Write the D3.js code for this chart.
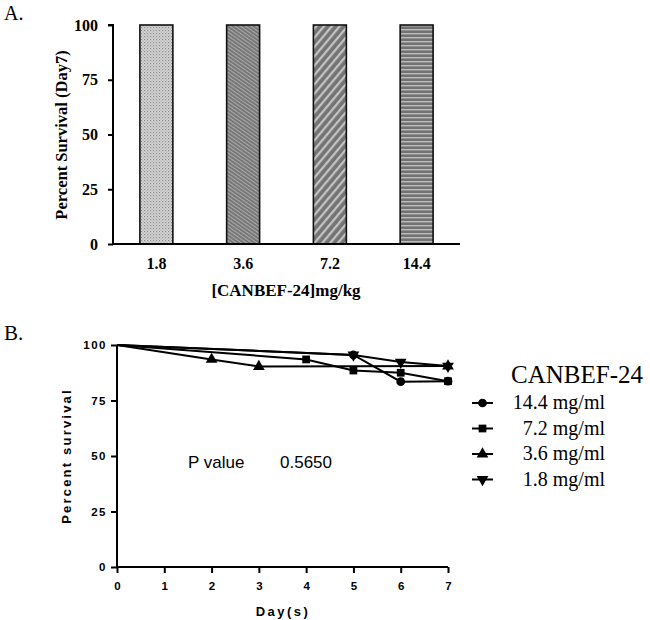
<!DOCTYPE html>
<html>
<head>
<meta charset="utf-8">
<script src="https://cdn.jsdelivr.net/npm/d3@7"></script>
<style>
  body { margin: 0; background: #fff; }
  svg { display: block; }
</style>
</head>
<body>
<svg id="chart" width="650" height="620"></svg>
<script>
// Panel A: survival at day 7 per dose
const doses = ["1.8", "3.6", "7.2", "14.4"];
const day7Survival = [100, 100, 100, 100];
const barPatterns = ["pDots", "pFine", "pDiag", "pHoriz"];
const yTicksA = [0, 25, 50, 75, 100];

// Panel B: survival curves
const days = [0, 1, 2, 3, 4, 5, 6, 7];
const yTicksB = [0, 25, 50, 75, 100];
const seriesNames = ["14.4 mg/ml", "7.2 mg/ml", "3.6 mg/ml", "1.8 mg/ml"];
const seriesSymbols = ["circle", "square", "triangle", "invtriangle"];
const curve144 = [[0, 100], [5, 95.5], [6, 83.5], [7, 83.7]];
const curve72 = [[0, 100], [4, 93.5], [5, 88.5], [6, 87.5], [7, 83.7]];
const curve36 = [[0, 100], [2, 93.5], [3, 90.3], [7, 90.5]];
const curve18 = [[0, 100], [5, 95.5], [6, 92.3], [7, 90.5]];
const curves = [curve144, curve72, curve36, curve18];
const pValue = "0.5650";

const svg = d3.select("#chart");
const serif = "'Liberation Serif', 'Times New Roman', serif";
const sans = "'Liberation Sans', Arial, sans-serif";

// ---- fill patterns for the bars
const defs = svg.append("defs");

const dots = defs.append("pattern").attr("id", "pDots")
    .attr("patternUnits", "userSpaceOnUse").attr("width", 3).attr("height", 3);
dots.append("rect").attr("width", 3).attr("height", 3).attr("fill", "#d6d6d6");
dots.append("rect").attr("width", 1.2).attr("height", 1.2).attr("fill", "#8a8a8a");
dots.append("rect").attr("x", 1.5).attr("y", 1.5).attr("width", 1.2).attr("height", 1.2).attr("fill", "#a8a8a8");

const fine = defs.append("pattern").attr("id", "pFine")
    .attr("patternUnits", "userSpaceOnUse").attr("width", 3).attr("height", 3)
    .attr("patternTransform", "rotate(35)");
fine.append("rect").attr("width", 3).attr("height", 3).attr("fill", "#747474");
fine.append("rect").attr("width", 3).attr("height", 1.1).attr("fill", "#aaaaaa");

const diag = defs.append("pattern").attr("id", "pDiag")
    .attr("patternUnits", "userSpaceOnUse").attr("width", 6).attr("height", 6)
    .attr("patternTransform", "rotate(-50)");
diag.append("rect").attr("width", 6).attr("height", 6).attr("fill", "#747474");
diag.append("rect").attr("width", 6).attr("height", 2.2).attr("fill", "#c4c4c4");

const horiz = defs.append("pattern").attr("id", "pHoriz")
    .attr("patternUnits", "userSpaceOnUse").attr("width", 4).attr("height", 4);
horiz.append("rect").attr("width", 4).attr("height", 4).attr("fill", "#727272");
horiz.append("rect").attr("y", 1).attr("width", 4).attr("height", 1.4).attr("fill", "#bdbdbd");

// ================= Panel A =================
const A = { left: 113, right: 460, top: 25, bottom: 244 };

svg.append("text").attr("x", 4).attr("y", 20)
    .attr("font-family", serif).attr("font-size", 20).text("A.");

const xA = d3.scaleBand().domain(doses).range([A.left, A.right])
    .paddingInner(0.62).paddingOuter(0.31);
const yA = d3.scaleLinear().domain([0, 100]).range([A.bottom, A.top]);

svg.append("g").selectAll("rect")
    .data(doses)
    .join("rect")
    .attr("x", d => xA(d))
    .attr("y", (d, i) => yA(day7Survival[i]))
    .attr("width", xA.bandwidth())
    .attr("height", (d, i) => yA(0) - yA(day7Survival[i]))
    .attr("fill", (d, i) => `url(#${barPatterns[i]})`)
    .attr("stroke", "#111")
    .attr("stroke-width", 1.6);

const yAxisA = svg.append("g")
    .attr("transform", `translate(${A.left},0)`)
    .call(d3.axisLeft(yA).tickValues(yTicksA).tickSize(5).tickPadding(10));
yAxisA.select(".domain").attr("stroke-width", 2).attr("d", `M-5,${A.top}H0V${A.bottom}`);
yAxisA.selectAll(".tick line").attr("stroke-width", 2);
yAxisA.selectAll(".tick text")
    .attr("font-family", serif).attr("font-size", 16).attr("font-weight", "bold").attr("fill", "#000");

const xAxisA = svg.append("g")
    .attr("transform", `translate(0,${A.bottom})`)
    .call(d3.axisBottom(xA).tickSize(0).tickPadding(14));
xAxisA.select(".domain").attr("stroke-width", 2).attr("d", `M${A.left},0H${A.right}`);
xAxisA.selectAll(".tick text")
    .attr("font-family", serif).attr("font-size", 16).attr("font-weight", "bold").attr("fill", "#000");

svg.append("text")
    .attr("x", 286).attr("y", 296)
    .attr("text-anchor", "middle")
    .attr("font-family", serif).attr("font-size", 17).attr("font-weight", "bold")
    .text("[CANBEF-24]mg/kg");

svg.append("text")
    .attr("transform", "translate(67,135) rotate(-90)")
    .attr("text-anchor", "middle")
    .attr("font-family", serif).attr("font-size", 16.5).attr("font-weight", "bold")
    .text("Percent Survival (Day7)");

// ================= Panel B =================
const B = { left: 117, right: 448, top: 345, bottom: 567 };

svg.append("text").attr("x", 4).attr("y", 340)
    .attr("font-family", serif).attr("font-size", 21).text("B.");

const xB = d3.scaleLinear().domain([0, 7]).range([B.left, B.right]);
const yB = d3.scaleLinear().domain([0, 100]).range([B.bottom, B.top]);

const yAxisB = svg.append("g")
    .attr("transform", `translate(${B.left},0)`)
    .call(d3.axisLeft(yB).tickValues(yTicksB).tickSize(6).tickPadding(4));
yAxisB.select(".domain").attr("stroke-width", 2).attr("d", `M0,${B.top}V${B.bottom}`);
yAxisB.selectAll(".tick line").attr("stroke-width", 2);
yAxisB.selectAll(".tick text")
    .attr("font-family", sans).attr("font-size", 11.5).attr("font-weight", "bold")
    .attr("letter-spacing", 1.5).attr("fill", "#000");

const xAxisB = svg.append("g")
    .attr("transform", `translate(0,${B.bottom})`)
    .call(d3.axisBottom(xB).tickValues(days).tickFormat(d3.format("d")).tickSize(6).tickPadding(9));
xAxisB.select(".domain").attr("stroke-width", 2).attr("d", `M${B.left},0H${B.right}`);
xAxisB.selectAll(".tick line").attr("stroke-width", 2);
xAxisB.selectAll(".tick text")
    .attr("font-family", sans).attr("font-size", 11.5).attr("font-weight", "bold").attr("fill", "#000");

svg.append("text")
    .attr("x", 283).attr("y", 616)
    .attr("text-anchor", "middle")
    .attr("font-family", sans).attr("font-size", 13).attr("font-weight", "bold")
    .attr("letter-spacing", 2.5)
    .text("Day(s)");

svg.append("text")
    .attr("transform", "translate(71,456) rotate(-90)")
    .attr("text-anchor", "middle")
    .attr("font-family", sans).attr("font-size", 13).attr("font-weight", "bold")
    .attr("letter-spacing", 2.2)
    .text("Percent survival");

// symbol generators
function symbolPath(kind, size) {
    if (kind === "circle") return d3.symbol(d3.symbolCircle, size)();
    if (kind === "square") return d3.symbol(d3.symbolSquare, size)();
    return d3.symbol(d3.symbolTriangle, size)();
}
function symbolTransform(kind, x, y) {
    return kind === "invtriangle" ? `translate(${x},${y}) rotate(180)` : `translate(${x},${y})`;
}

const line = d3.line().x(d => xB(d[0])).y(d => yB(d[1]));

const series = svg.append("g");
curves.forEach(pts => {
    series.append("path")
        .datum(pts)
        .attr("d", line)
        .attr("fill", "none")
        .attr("stroke", "#000")
        .attr("stroke-width", 2);
});
curves.forEach((pts, i) => {
    series.selectAll(null)
        .data(pts.slice(1))
        .join("path")
        .attr("d", symbolPath(seriesSymbols[i], 60))
        .attr("transform", d => symbolTransform(seriesSymbols[i], xB(d[0]), yB(d[1])))
        .attr("fill", "#000");
});

// p value text
svg.append("text").attr("x", 188).attr("y", 468)
    .attr("font-family", sans).attr("font-size", 17).text("P value");
svg.append("text").attr("x", 280).attr("y", 468)
    .attr("font-family", sans).attr("font-size", 17).text(pValue);

// legend
svg.append("text").attr("x", 511).attr("y", 383)
    .attr("font-family", serif).attr("font-size", 25).text("CANBEF-24");

const legend = svg.append("g").selectAll("g")
    .data(seriesNames)
    .join("g")
    .attr("transform", (d, i) => `translate(0,${403 + i * 25.5})`);
legend.append("line")
    .attr("x1", 472).attr("x2", 493)
    .attr("stroke", "#000").attr("stroke-width", 2);
legend.append("path")
    .attr("d", (d, i) => symbolPath(seriesSymbols[i], 60))
    .attr("transform", (d, i) => symbolTransform(seriesSymbols[i], 482.5, 0))
    .attr("fill", "#000");
legend.append("text")
    .attr("x", 605).attr("y", 6)
    .attr("text-anchor", "end")
    .attr("font-family", serif).attr("font-size", 20)
    .text(d => d);
</script>
</body>
</html>
